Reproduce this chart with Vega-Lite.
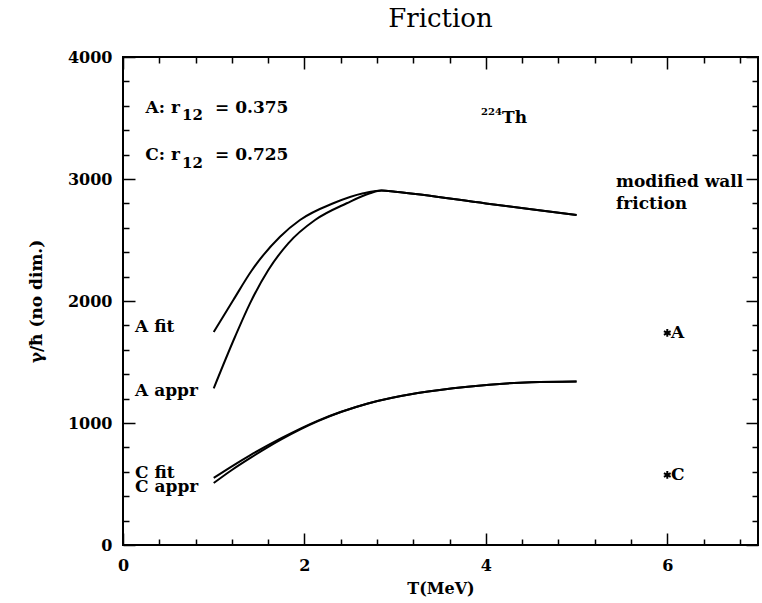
{
  "$schema": "https://vega.github.io/schema/vega-lite/v6.json",
  "width": 635,
  "height": 488,
  "autosize": {"type": "none"},
  "padding": {"left": 123, "top": 57, "right": 4, "bottom": 58},
  "background": "white",
  "title": {"text": "Friction", "font": "DejaVu Serif", "fontSize": 26, "fontWeight": "normal", "color": "black", "anchor": "middle", "offset": 17},
  "config": {
    "view": {"stroke": "black", "strokeWidth": 2},
    "axis": {"grid": false, "domain": false, "labelFlush": false, "tickColor": "black", "tickWidth": 1.5, "labelColor": "black", "labelFont": "DejaVu Serif", "labelFontWeight": "bold", "labelFontSize": 16, "titleFont": "DejaVu Serif", "titleFontWeight": "bold", "titleFontSize": 16, "titleColor": "black"},
    "text": {"font": "DejaVu Serif", "fontWeight": "bold", "color": "black"}
  },
  "datasets": {
    "lines": [
      {"series": "A fit", "T": 1.0, "g": 1746}, {"series": "A fit", "T": 1.216, "g": 2008}, {"series": "A fit", "T": 1.419, "g": 2250}, {"series": "A fit", "T": 1.731, "g": 2527}, {"series": "A fit", "T": 1.951, "g": 2664}, {"series": "A fit", "T": 2.318, "g": 2801}, {"series": "A fit", "T": 2.649, "g": 2883}, {"series": "A fit", "T": 2.85, "g": 2905}, {"series": "A fit", "T": 3.0, "g": 2895}, {"series": "A fit", "T": 4.0, "g": 2800}, {"series": "A fit", "T": 5.0, "g": 2705},
      {"series": "A appr", "T": 1.0, "g": 1284}, {"series": "A appr", "T": 1.235, "g": 1707}, {"series": "A appr", "T": 1.4, "g": 1981}, {"series": "A appr", "T": 1.602, "g": 2254}, {"series": "A appr", "T": 1.822, "g": 2473}, {"series": "A appr", "T": 2.117, "g": 2664}, {"series": "A appr", "T": 2.466, "g": 2801}, {"series": "A appr", "T": 2.723, "g": 2883}, {"series": "A appr", "T": 2.85, "g": 2905}, {"series": "A appr", "T": 3.0, "g": 2895}, {"series": "A appr", "T": 4.0, "g": 2800}, {"series": "A appr", "T": 5.0, "g": 2705},
      {"series": "C fit", "T": 1.0, "g": 550}, {"series": "C fit", "T": 1.2, "g": 645}, {"series": "C fit", "T": 1.4, "g": 735}, {"series": "C fit", "T": 1.75, "g": 878}, {"series": "C fit", "T": 2.15, "g": 1020}, {"series": "C fit", "T": 2.7, "g": 1160}, {"series": "C fit", "T": 3.25, "g": 1246}, {"series": "C fit", "T": 3.8, "g": 1298}, {"series": "C fit", "T": 4.5, "g": 1334}, {"series": "C fit", "T": 5.0, "g": 1340},
      {"series": "C appr", "T": 1.0, "g": 508}, {"series": "C appr", "T": 1.2, "g": 615}, {"series": "C appr", "T": 1.4, "g": 712}, {"series": "C appr", "T": 1.75, "g": 868}, {"series": "C appr", "T": 2.15, "g": 1016}, {"series": "C appr", "T": 2.7, "g": 1160}, {"series": "C appr", "T": 3.25, "g": 1246}, {"series": "C appr", "T": 3.8, "g": 1298}, {"series": "C appr", "T": 4.5, "g": 1334}, {"series": "C appr", "T": 5.0, "g": 1340}
    ],
    "notes": [
      {"x": 0.133, "y": 1787, "text": "A fit"},
      {"x": 0.133, "y": 1262, "text": "A appr"},
      {"x": 0.133, "y": 590, "text": "C fit"},
      {"x": 0.133, "y": 475, "text": "C appr"},
      {"x": 1.014, "y": 3586, "text": "= 0.375"},
      {"x": 1.014, "y": 3197, "text": "= 0.725"},
      {"x": 4.178, "y": 3504, "text": "Th"},
      {"x": 5.435, "y": 2975, "text": "modified wall"},
      {"x": 5.435, "y": 2795, "text": "friction"},
      {"x": 6.041, "y": 1738, "text": "A"},
      {"x": 6.041, "y": 574, "text": "C"}
    ],
    "heads": [
      {"x": 0.628, "y": 3586, "text": "A: r"},
      {"x": 0.628, "y": 3197, "text": "C: r"}
    ],
    "subs": [
      {"x": 0.65, "y": 3525, "text": "12"},
      {"x": 0.65, "y": 3131, "text": "12"}
    ],
    "sups": [
      {"x": 3.947, "y": 3549, "text": "224"}
    ],
    "stars": [
      {"T": 6.0, "g": 1738, "label": "A"},
      {"T": 6.0, "g": 574, "label": "C"}
    ]
  },
  "layer": [
    {
      "data": {"name": "lines"},
      "mark": {"type": "line", "color": "black", "strokeWidth": 2, "interpolate": "monotone"},
      "encoding": {
        "x": {"field": "T", "type": "quantitative", "scale": {"domain": [0, 7], "nice": false, "zero": false},
              "axis": {"orient": "bottom", "values": [0, 2, 4, 6], "tickSize": -12, "labelPadding": 24, "title": "T(MeV)", "titlePadding": 7, "format": "d"}},
        "y": {"field": "g", "type": "quantitative", "scale": {"domain": [0, 4000], "nice": false, "zero": false},
              "axis": {"orient": "left", "values": [0, 1000, 2000, 3000, 4000], "tickSize": -12, "labelPadding": 23, "title": "γ/ħ (no dim.)", "titlePadding": 22, "titleFontSize": 17, "format": "d"}},
        "detail": {"field": "series", "type": "nominal"}
      }
    },
    {
      "data": {"name": "notes"},
      "mark": {"type": "text", "align": "left", "baseline": "middle", "fontSize": 17, "clip": false},
      "encoding": {
        "x": {"field": "x", "type": "quantitative", "axis": {"orient": "bottom", "values": [0.4, 0.8, 1.2, 1.6, 2.4, 2.8, 3.2, 3.6, 4.4, 4.8, 5.2, 5.6, 6.4, 6.8], "tickSize": -6, "labels": false, "title": null}},
        "y": {"field": "y", "type": "quantitative", "axis": {"orient": "left", "values": [200, 400, 600, 800, 1200, 1400, 1600, 1800, 2200, 2400, 2600, 2800, 3200, 3400, 3600, 3800], "tickSize": -6, "labels": false, "title": null}},
        "text": {"field": "text", "type": "nominal"}
      }
    },
    {
      "data": {"name": "heads"},
      "mark": {"type": "text", "align": "right", "baseline": "middle", "fontSize": 17},
      "encoding": {
        "x": {"field": "x", "type": "quantitative", "axis": {"orient": "top", "values": [0, 2, 4, 6], "tickSize": -12, "labels": false, "title": null}},
        "y": {"field": "y", "type": "quantitative", "axis": {"orient": "right", "values": [0, 1000, 2000, 3000, 4000], "tickSize": -12, "labels": false, "title": null}},
        "text": {"field": "text", "type": "nominal"}
      }
    },
    {
      "data": {"name": "subs"},
      "mark": {"type": "text", "align": "left", "baseline": "middle", "fontSize": 15},
      "encoding": {
        "x": {"field": "x", "type": "quantitative", "axis": {"orient": "top", "values": [0.4, 0.8, 1.2, 1.6, 2.4, 2.8, 3.2, 3.6, 4.4, 4.8, 5.2, 5.6, 6.4, 6.8], "tickSize": -6, "labels": false, "title": null}},
        "y": {"field": "y", "type": "quantitative", "axis": {"orient": "right", "values": [200, 400, 600, 800, 1200, 1400, 1600, 1800, 2200, 2400, 2600, 2800, 3200, 3400, 3600, 3800], "tickSize": -6, "labels": false, "title": null}},
        "text": {"field": "text", "type": "nominal"}
      }
    },
    {
      "data": {"name": "sups"},
      "mark": {"type": "text", "align": "left", "baseline": "middle", "fontSize": 10},
      "encoding": {
        "x": {"field": "x", "type": "quantitative", "axis": null},
        "y": {"field": "y", "type": "quantitative", "axis": null},
        "text": {"field": "text", "type": "nominal"}
      }
    },
    {
      "data": {"name": "stars"},
      "mark": {"type": "point", "shape": "M0,-1L0,1M-0.866,-0.5L0.866,0.5M-0.866,0.5L0.866,-0.5", "size": 60, "stroke": "black", "strokeWidth": 2, "filled": false, "opacity": 1},
      "encoding": {
        "x": {"field": "T", "type": "quantitative", "axis": null},
        "y": {"field": "g", "type": "quantitative", "axis": null}
      }
    }
  ],
  "resolve": {"axis": {"x": "independent", "y": "independent"}}
}
